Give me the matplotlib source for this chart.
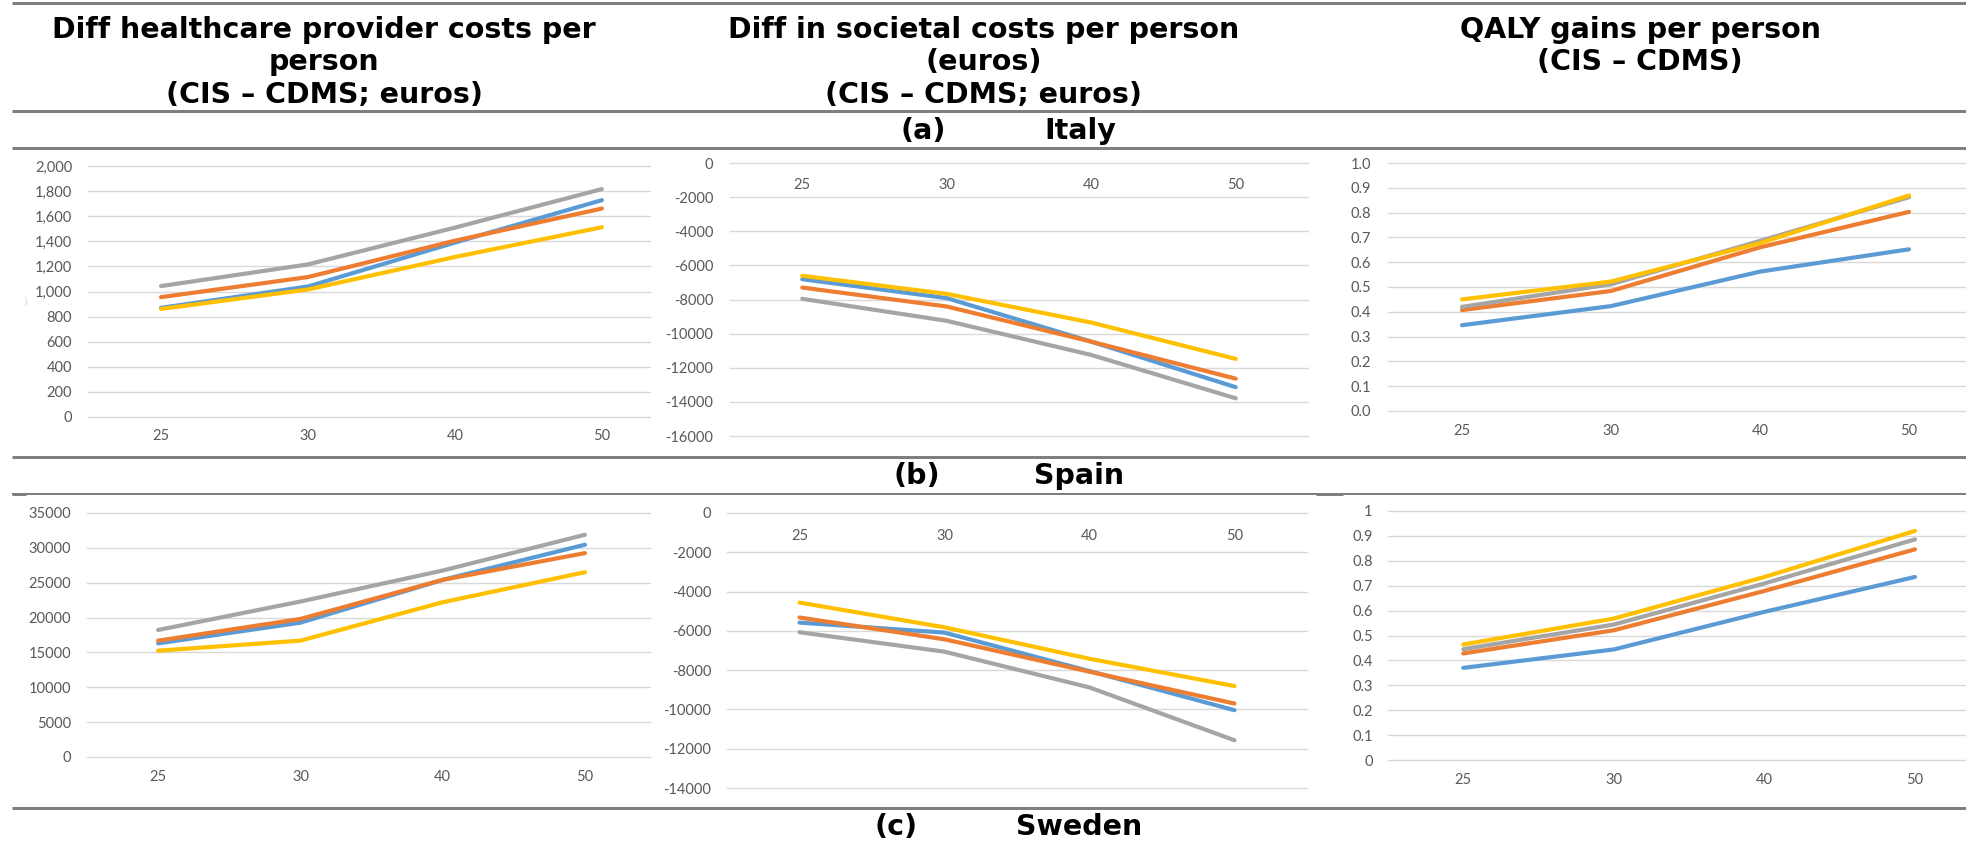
import matplotlib
matplotlib.use("Agg")
import matplotlib.pyplot as plt
from matplotlib.lines import Line2D

W, H = 1966, 844
DPI = 100

# ---------------- data ----------------
ages = ["25", "30", "40", "50"]
line_colors = ["#5B9BD5", "#ED7D31", "#A5A5A5", "#FFC000"]  # blue, orange, gray, yellow

# Italy - healthcare provider costs
it_prov_blue = [870, 1040, 1390, 1728]
it_prov_orange = [955, 1115, 1405, 1661]
it_prov_gray = [1043, 1216, 1509, 1816]
it_prov_yellow = [861, 1016, 1275, 1512]

# Italy - societal costs
it_soc_blue = [-6810, -7920, -10470, -13140]
it_soc_orange = [-7300, -8410, -10470, -12640]
it_soc_gray = [-7960, -9250, -11250, -13790]
it_soc_yellow = [-6610, -7670, -9350, -11480]

# Italy - QALY gains
it_qaly_blue = [0.346, 0.423, 0.562, 0.652]
it_qaly_orange = [0.407, 0.484, 0.660, 0.803]
it_qaly_gray = [0.420, 0.511, 0.686, 0.862]
it_qaly_yellow = [0.450, 0.522, 0.677, 0.869]

# Spain - healthcare provider costs
es_prov_blue = [16300, 19270, 25410, 30450]
es_prov_orange = [16690, 19800, 25410, 29250]
es_prov_gray = [18220, 22300, 26750, 31880]
es_prov_yellow = [15250, 16690, 22200, 26510]

# Spain - societal costs
es_soc_blue = [-5580, -6090, -8050, -10040]
es_soc_orange = [-5320, -6430, -8080, -9700]
es_soc_gray = [-6070, -7060, -8880, -11570]
es_soc_yellow = [-4560, -5820, -7420, -8810]

# Spain - QALY gains
es_qaly_blue = [0.370, 0.444, 0.595, 0.735]
es_qaly_orange = [0.428, 0.521, 0.679, 0.846]
es_qaly_gray = [0.445, 0.544, 0.709, 0.886]
es_qaly_yellow = [0.464, 0.568, 0.735, 0.920]

# y tick values / labels
it_prov_ticks = [0, 200, 400, 600, 800, 1000, 1200, 1400, 1600, 1800, 2000]
it_prov_labels = ["0", "200", "400", "600", "800", "1,000", "1,200", "1,400", "1,600", "1,800", "2,000"]
it_soc_ticks = [0, -2000, -4000, -6000, -8000, -10000, -12000, -14000, -16000]
it_soc_labels = ["0", "-2000", "-4000", "-6000", "-8000", "-10000", "-12000", "-14000", "-16000"]
it_qaly_ticks = [0.0, 0.1, 0.2, 0.3, 0.4, 0.5, 0.6, 0.7, 0.8, 0.9, 1.0]
it_qaly_labels = ["0.0", "0.1", "0.2", "0.3", "0.4", "0.5", "0.6", "0.7", "0.8", "0.9", "1.0"]
es_prov_ticks = [0, 5000, 10000, 15000, 20000, 25000, 30000, 35000]
es_prov_labels = ["0", "5000", "10000", "15000", "20000", "25000", "30000", "35000"]
es_soc_ticks = [0, -2000, -4000, -6000, -8000, -10000, -12000, -14000]
es_soc_labels = ["0", "-2000", "-4000", "-6000", "-8000", "-10000", "-12000", "-14000"]
es_qaly_ticks = [0, 0.1, 0.2, 0.3, 0.4, 0.5, 0.6, 0.7, 0.8, 0.9, 1]
es_qaly_labels = ["0", "0.1", "0.2", "0.3", "0.4", "0.5", "0.6", "0.7", "0.8", "0.9", "1"]

col_headers = [
    "Diff healthcare provider costs per\nperson\n(CIS \u2013 CDMS; euros)",
    "Diff in societal costs per person\n(euros)\n(CIS \u2013 CDMS; euros)",
    "QALY gains per person\n(CIS \u2013 CDMS)",
]
section_tags = ["(a)", "(b)", "(c)"]
section_names = ["Italy", "Spain", "Sweden"]

# ---------------- figure ----------------
fig = plt.figure(figsize=(W / DPI, H / DPI), dpi=DPI)
fig.patch.set_facecolor("white")

TICK_COLOR = "#595959"
GRID_COLOR = "#D9D9D9"
TICK_FONT = "Lato"


def fx(px):
    return px / W


def fy(py):
    return 1 - py / H


def make_chart(left, right, top, bottom, ymin, ymax, yticks, ylabels,
               xright, series, cross_zero, xpad, ypad):
    ax = fig.add_axes([fx(left), fy(bottom), (right - left) / W, (bottom - top) / H])
    ax.set_facecolor("none")
    x = list(range(len(ages)))
    for vals, c in zip(series, line_colors):
        ax.plot(x, vals, color=c, lw=3.0, solid_capstyle="round", zorder=3)
    ax.set_xlim(-0.5, xright)
    ax.set_ylim(ymin, ymax)
    ax.set_yticks(yticks, ylabels)
    ax.set_xticks(x, ages)
    for s in ax.spines.values():
        s.set_visible(False)
    if cross_zero:
        ax.spines["bottom"].set_position(("data", 0))
    ax.tick_params(axis="both", length=0, colors=TICK_COLOR, labelsize=10.5)
    ax.tick_params(axis="x", pad=xpad)
    ax.tick_params(axis="y", pad=ypad)
    for lab in ax.get_xticklabels() + ax.get_yticklabels():
        lab.set_fontfamily(TICK_FONT)
    ax.yaxis.grid(True, color=GRID_COLOR, lw=1.0, zorder=0)
    ax.set_axisbelow(True)
    for gl in ax.yaxis.get_gridlines():
        gl.set_clip_on(False)
    return ax


# Italy row
make_chart(87.5, 650, 166, 417, 0, 2000, it_prov_ticks, it_prov_labels,
           3 + (650 - 602) / 146.7,
           [it_prov_blue, it_prov_orange, it_prov_gray, it_prov_yellow], False, 8.6, 11)
make_chart(730, 1308, 163, 436, -16000, 0, it_soc_ticks, it_soc_labels, 3.5,
           [it_soc_blue, it_soc_orange, it_soc_gray, it_soc_yellow], True, 10.8, 12)
make_chart(1387.5, 1966, 163, 411, 0, 1.0, it_qaly_ticks, it_qaly_labels,
           3 + (1966 - 1909) / 149,
           [it_qaly_blue, it_qaly_orange, it_qaly_gray, it_qaly_yellow], False, 9.4, 12)

# Spain row
make_chart(87, 650, 513, 757, 0, 35000, es_prov_ticks, es_prov_labels,
           3 + (650 - 585) / 142.3,
           [es_prov_blue, es_prov_orange, es_prov_gray, es_prov_yellow], False, 9.4, 11.5)
make_chart(727, 1307, 513, 788, -14000, 0, es_soc_ticks, es_soc_labels, 3.5,
           [es_soc_blue, es_soc_orange, es_soc_gray, es_soc_yellow], True, 11.5, 11.5)
make_chart(1388, 1966, 511, 760, 0, 1, es_qaly_ticks, es_qaly_labels,
           3 + (1966 - 1915) / 150.5,
           [es_qaly_blue, es_qaly_orange, es_qaly_gray, es_qaly_yellow], False, 9.4, 11)

# ---------------- table rules ----------------
RULE = "#7F7F7F"


def rule(y, x0=12, x1=W, lw_px=3):
    fig.add_artist(Line2D([fx(x0), fx(x1)], [fy(y), fy(y)], color=RULE,
                          lw=lw_px * 72 / DPI, solid_capstyle="butt"))


rule(3)
rule(111)
rule(148)
rule(457)
rule(494, lw_px=2)
rule(494, x0=12, x1=26, lw_px=3)
rule(494, x0=1316, x1=1343, lw_px=3)
rule(808)

# ---------------- header text ----------------
HFONT = dict(family="DejaVu Sans", weight="bold", fontsize=20.5, color="black")
header_x = [324, 984, 1640]
line_y = [30, 62, 95]
for hx, txt in zip(header_x, col_headers):
    for i, line in enumerate(txt.split("\n")):
        fig.text(fx(hx), fy(line_y[i]), line, ha="center", va="center", **HFONT)

tag_pos = [(923, 131), (917, 476), (896, 827)]
name_pos = [(1080, 131), (1079, 476), (1079, 827)]
for (tx, ty), (nx, ny), tag, name in zip(tag_pos, name_pos, section_tags, section_names):
    fig.text(fx(tx), fy(ty), tag, ha="center", va="center", **HFONT)
    fig.text(fx(nx), fy(ny), name, ha="center", va="center", **HFONT)

# faint artefact mark left of chart
fig.text(fx(25), fy(301), ")", ha="center", va="center", color="#D0D0D0", fontsize=7)

fig.savefig("out.png", dpi=DPI, facecolor="white")
